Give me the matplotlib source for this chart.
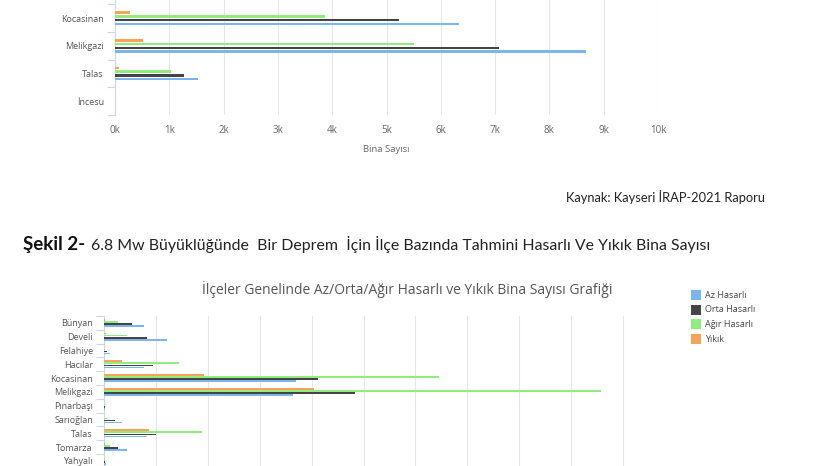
import numpy as np
import matplotlib
matplotlib.use('Agg')
import matplotlib.pyplot as plt
from matplotlib.patches import Rectangle

# upper chart (only the lower part is visible on the page)
top_districts = ['Kocasinan', 'Melikgazi', 'Talas', 'İncesu']
top_az = [6330, 8670, 1530, 0]
top_orta = [5230, 7070, 1270, 0]
top_agir = [3870, 5500, 1030, 0]
top_yikik = [280, 520, 70, 0]
top_ticks = ['0k', '1k', '2k', '3k', '4k', '5k', '6k', '7k', '8k', '9k', '10k']

# lower chart, 6.8 Mw scenario
districts = ['Bünyan', 'Develi', 'Felahiye', 'Hacılar', 'Kocasinan', 'Melikgazi',
             'Pınarbaşı', 'Sarıoğlan', 'Talas', 'Tomarza', 'Yahyalı']
az = [770, 1220, 120, 770, 3690, 3650, 20, 350, 830, 440, 40]
orta = [540, 830, 60, 950, 4130, 4830, 10, 210, 1000, 270, 20]
agir = [270, 440, 20, 1450, 6450, 9570, 10, 50, 1890, 120, 10]
yikik = [20, 30, 0, 350, 1930, 4050, 0, 0, 870, 10, 0]

series_names = ['Az Hasarlı', 'Orta Hasarlı', 'Ağır Hasarlı', 'Yıkık']
colors = ['#7cb5ec', '#434348', '#90ed7d', '#f7a35c']

W, H = 826, 466
fig = plt.figure(figsize=(W / 100, H / 100), dpi=100)
fig.patch.set_facecolor('white')

CHART_FONT = ['Liberation Sans Narrow', 'Open Sans', 'DejaVu Sans']
DOC_FONT = ['Lato', 'DejaVu Sans']


def box(l, t, r, b):
    return [l / W, 1 - b / H, (r - l) / W, (b - t) / H]


def bars(ax, n, values_list, slot, height):
    y = np.arange(n)
    # drawn order top->bottom: Yıkık, Ağır, Orta, Az
    offs = [1.5, 0.5, -0.5, -1.5]
    for vals, c, o in zip(values_list, colors, offs):
        ax.barh(y + o * slot, vals, height=height, color=c, linewidth=0, zorder=3)


def style(ax, n, labels, xmax, step):
    ax.set_xlim(0, xmax)
    ax.set_xticks(np.arange(0, xmax + 1, step))
    ax.grid(axis='x', color='#e6e6e6', linewidth=0.8, zorder=0)
    ax.set_yticks(np.arange(n))
    ax.set_yticklabels(labels, fontsize=6.5, color='#555555', family=CHART_FONT)
    ax.set_yticks(np.arange(n + 1) - 0.5, minor=True)
    ax.tick_params(axis='y', which='major', length=0, pad=8)
    ax.tick_params(axis='y', which='minor', length=6, color='#ccd6eb', width=0.8)
    for s in ['top', 'right', 'bottom']:
        ax.spines[s].set_visible(False)
    ax.spines['left'].set_color('#ccd6eb')
    ax.spines['left'].set_linewidth(0.8)


# ---- upper chart ----
ax1 = fig.add_axes(box(115, 0, 658, 115))
bars(ax1, 4, [top_az, top_orta, top_agir, top_yikik], 0.135, 0.09)
style(ax1, 4, top_districts, 10000, 1000)
ax1.set_ylim(3.5, -0.66)
ax1.set_xticklabels(top_ticks, fontsize=7, color='#666666', family=CHART_FONT)
ax1.tick_params(axis='x', length=0, pad=7)
ax1.set_xlabel('Bina Sayısı', fontsize=6.8, color='#666666', family=CHART_FONT, labelpad=7)

fig.text(765 / W, 1 - 197 / H, 'Kaynak: Kayseri İRAP-2021 Raporu', ha='right', va='center',
         fontsize=9.3, color='#222222', family=DOC_FONT)

fig.text(23 / W, 1 - 245 / H, 'Şekil 2-', ha='left', va='center',
         fontsize=13.5, color='#111111', family=DOC_FONT, weight='bold')
fig.text(91 / W, 1 - 245 / H,
         '6.8 Mw Büyüklüğünde  Bir Deprem  İçin İlçe Bazında Tahmini Hasarlı Ve Yıkık Bina Sayısı',
         ha='left', va='center', fontsize=11.4, color='#222222', family=DOC_FONT)

# ---- lower chart ----
fig.text(407 / W, 1 - 289 / H,
         'İlçeler Genelinde Az/Orta/Ağır Hasarlı ve Yıkık Bina Sayısı Grafiği',
         ha='center', va='center', fontsize=10, color='#555555', family=['Open Sans', 'DejaVu Sans'])

ax2 = fig.add_axes(box(104, 316, 675, 466))
bars(ax2, len(districts), [az, orta, agir, yikik], 0.15, 0.12)
style(ax2, len(districts), districts, 11000, 1000)
ax2.set_ylim(10.37, -0.5)
ax2.tick_params(axis='x', length=0, labelbottom=False)

# legend
for i, (name, c) in enumerate(zip(series_names, colors)):
    yc = 295 + i * 14.7
    fig.patches.append(Rectangle((691 / W, 1 - (yc + 5) / H), 10 / W, 10 / H,
                                 transform=fig.transFigure, facecolor=c, edgecolor='none'))
    fig.text(705 / W, 1 - yc / H, name, ha='left', va='center', fontsize=6.5,
             color='#444444', family=CHART_FONT)

fig.savefig('out.png', dpi=100, facecolor='white')
